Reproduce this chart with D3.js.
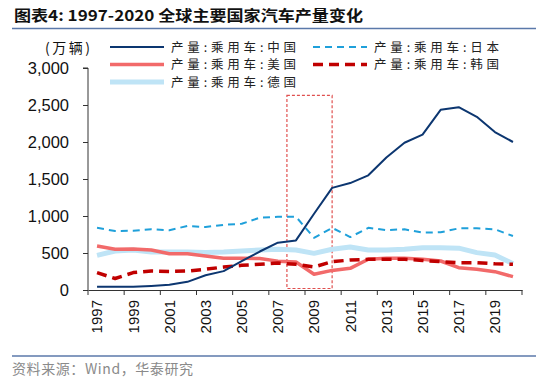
<!DOCTYPE html>
<html>
<head>
<meta charset="utf-8">
<script src="https://cdn.jsdelivr.net/npm/d3@7"></script>
<style>
  body { margin: 0; background: #fff; }
  svg { display: block; }
  .cjk { font-family: "Noto Sans CJK SC", sans-serif; }
  .num { font-family: "Liberation Sans", Arial, sans-serif; }
</style>
</head>
<body>
<div id="chart"></div>
<script>
const width = 550;
const height = 387;

// data (万辆)
const years = d3.range(1997, 2021);
const china   = [45, 45, 45, 55, 70, 110, 200, 255, 390, 520, 640, 670, 1030, 1380, 1445, 1550, 1790, 1990, 2100, 2435, 2470, 2340, 2135, 2000];
const japan   = [840, 797, 800, 822, 808, 865, 851, 880, 895, 977, 990, 990, 705, 840, 715, 840, 810, 820, 775, 780, 833, 833, 820, 730];
const usa     = [595, 550, 555, 540, 490, 490, 460, 428, 428, 425, 390, 378, 212, 265, 293, 415, 428, 428, 415, 392, 302, 280, 248, 180];
const korea   = [235, 155, 235, 256, 250, 256, 280, 310, 333, 347, 365, 347, 310, 383, 405, 415, 415, 415, 400, 383, 369, 369, 355, 347];
const germany = [468, 527, 540, 513, 513, 513, 506, 513, 527, 540, 550, 540, 495, 550, 580, 540, 540, 550, 571, 571, 565, 505, 472, 355];
const yTicks = [0, 500, 1000, 1500, 2000, 2500, 3000];
const xLabels = years.filter((d, i) => i % 2 === 0);
const highlight = [2008, 2010]; // boxed years

const series = [
    { name: "产量:乘用车:德国", values: germany, color: "#bfe4f6", w: 5, dash: null, legend: [0, 2] },
    { name: "产量:乘用车:美国", values: usa, color: "#f26a6a", w: 3.5, dash: null, legend: [0, 1] },
    { name: "产量:乘用车:韩国", values: korea, color: "#c00000", w: 3.5, dash: "10,6", legend: [1, 1] },
    { name: "产量:乘用车:日本", values: japan, color: "#1fa0da", w: 2, dash: "7,5", legend: [1, 0] },
    { name: "产量:乘用车:中国", values: china, color: "#0c3670", w: 2, dash: null, legend: [0, 0] }
];

const svg = d3.select("#chart")
    .append("svg")
    .attr("width", width)
    .attr("height", height);

// title + rules
svg.append("text")
    .attr("class", "cjk")
    .attr("x", 14).attr("y", 21)
    .attr("font-size", 15).attr("font-weight", "bold").attr("fill", "#111")
    .attr("textLength", 349).attr("lengthAdjust", "spacingAndGlyphs")
    .text("图表4:  1997-2020 全球主要国家汽车产量变化");

svg.append("line").attr("x1", 12).attr("x2", 536).attr("y1", 28.5).attr("y2", 28.5)
    .attr("stroke", "#5b79aa").attr("stroke-width", 1.5);
svg.append("line").attr("x1", 12).attr("x2", 536).attr("y1", 356).attr("y2", 356)
    .attr("stroke", "#5b79aa").attr("stroke-width", 1.5);

svg.append("text")
    .attr("class", "cjk")
    .attr("x", 12).attr("y", 374)
    .attr("font-size", 14).attr("fill", "#8a8a8a")
    .attr("textLength", 181).attr("lengthAdjust", "spacing")
    .text("资料来源：Wind，华泰研究");

// scales
const x = d3.scaleBand().domain(years).range([88, 522]).padding(0);
const y = d3.scaleLinear().domain([0, 3000]).range([290, 68]);
const cx = d => x(d) + x.bandwidth() / 2;

// y axis
const yAxis = svg.append("g")
    .attr("transform", "translate(88,0)")
    .call(d3.axisLeft(y).tickValues(yTicks).tickSize(5).tickPadding(14).tickFormat(d3.format(",")));
yAxis.select(".domain").attr("stroke", "#333").attr("d", `M-5,${y(3000)}H0V${y(0)}`);
yAxis.selectAll(".tick line").attr("stroke", "#333");
yAxis.selectAll("text").attr("class", "num").attr("font-size", 16.5).attr("fill", "#111");

// x axis: labels centred on bands, ticks on every other band boundary
const xAxis = svg.append("g")
    .attr("transform", `translate(0,${y(0)})`)
    .call(d3.axisBottom(x).tickValues(xLabels).tickSize(0));
xAxis.select(".domain").attr("stroke", "#333");
xAxis.selectAll("text")
    .attr("class", "num")
    .attr("font-size", 15).attr("fill", "#111")
    .attr("transform", "rotate(-90)")
    .attr("text-anchor", "end")
    .attr("x", -10).attr("y", 0).attr("dy", "0.36em");

const boundaries = xLabels.map(d => x(d)).concat([x.range()[1]]);
svg.append("g").selectAll("line")
    .data(boundaries)
    .join("line")
    .attr("x1", d => d).attr("x2", d => d)
    .attr("y1", y(0)).attr("y2", y(0) + 5)
    .attr("stroke", "#333");

// highlight box
svg.append("rect")
    .attr("x", x(highlight[0]))
    .attr("y", y(2630))
    .attr("width", cx(highlight[1]) - x(highlight[0]))
    .attr("height", y(20) - y(2630))
    .attr("fill", "none")
    .attr("stroke", "#e0504f")
    .attr("stroke-width", 1.2)
    .attr("stroke-dasharray", "3,2");

// lines
const line = d3.line()
    .x((d, i) => cx(years[i]))
    .y(d => y(d));

svg.append("g").selectAll("path")
    .data(series)
    .join("path")
    .attr("d", d => line(d.values))
    .attr("fill", "none")
    .attr("stroke", d => d.color)
    .attr("stroke-width", d => d.w)
    .attr("stroke-dasharray", d => d.dash)
    .attr("stroke-linejoin", "round");

// legend
svg.append("text")
    .attr("class", "cjk")
    .attr("x", 45).attr("y", 53)
    .attr("font-size", 14).attr("fill", "#111")
    .attr("textLength", 45).attr("lengthAdjust", "spacing")
    .text("(万辆)");

const legendX = [110, 313];
const legendY = [47, 64.5, 82];
const lg = svg.append("g").selectAll("g")
    .data(series)
    .join("g")
    .attr("transform", d => `translate(${legendX[d.legend[0]]},${legendY[d.legend[1]]})`);
lg.append("line")
    .attr("x1", 0).attr("x2", 54)
    .attr("stroke", d => d.color)
    .attr("stroke-width", d => d.w)
    .attr("stroke-dasharray", d => d.dash);
lg.append("text")
    .attr("class", "cjk")
    .attr("x", 61).attr("y", 4.5)
    .attr("font-size", 12.5).attr("fill", "#222")
    .attr("textLength", 125).attr("lengthAdjust", "spacing")
    .text(d => d.name);
</script>
</body>
</html>
